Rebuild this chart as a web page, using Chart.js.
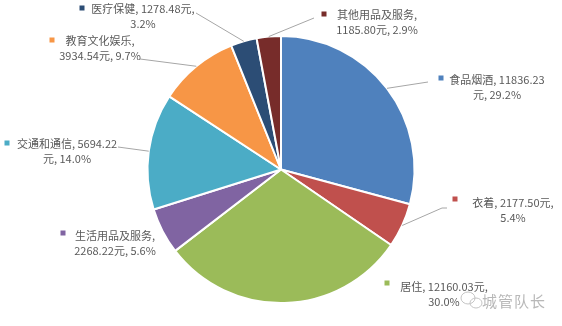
<!DOCTYPE html>
<html>
<head>
<meta charset="utf-8">
<script src="https://cdn.jsdelivr.net/npm/chart.js@4"></script>
<style>
  html, body { margin: 0; padding: 0; background: #fff; }
  #wrap { position: relative; width: 562px; height: 326px; }
  #mark { position: absolute; left: 482px; top: 290px; font: 15px "Noto Sans CJK SC", sans-serif; color: #b8b8b8; letter-spacing: 1px; }
</style>
</head>
<body>
<div id="wrap">
  <canvas id="pie" width="562" height="326"></canvas>
  <div id="mark">城管队长</div>
</div>
<script>
// data
const categories = ['食品烟酒', '衣着', '居住', '生活用品及服务', '交通和通信', '教育文化娱乐', '医疗保健', '其他用品及服务'];
const amounts = [11836.23, 2177.50, 12160.03, 2268.22, 5694.22, 3934.54, 1278.48, 1185.80];
const colors = ['#4F81BD', '#C0504D', '#9BBB59', '#8064A2', '#4BACC6', '#F79646', '#2C4D75', '#772C2A'];

// where each data label sits (text centre, first line y, marker, leader start)
const labelLayout = [
  { x: 497, y: 80,  split: 'num',  mx: 441, my: 78,  leader: [[428, 82]] },
  { x: 513, y: 203, split: 'yuan', mx: 455, my: 199, leader: [[447, 208], [442, 208]] },
  { x: 444, y: 287, split: 'yuan', mx: 387, my: 283, leader: null },
  { x: 115, y: 236, split: 'cat',  mx: 63,  my: 233, leader: null },
  { x: 67,  y: 144, split: 'num',  mx: 7,   my: 143, leader: [[118, 147]] },
  { x: 100, y: 41,  split: 'cat',  mx: 52,  my: 40,  leader: [[140, 59]] },
  { x: 143, y: 9,   split: 'yuan', mx: 82,  my: 8,   leader: [[196, 13]] },
  { x: 377, y: 15,  split: 'cat',  mx: 324, my: 14,  leader: [[314, 18]] }
];

const total = amounts.reduce((a, b) => a + b, 0);

function labelLines(i) {
  const cat = categories[i];
  const val = amounts[i].toFixed(2);
  const pct = (amounts[i] / total * 100).toFixed(1) + '%';
  const mode = labelLayout[i].split;
  if (mode === 'cat') return [cat + ',', val + '元, ' + pct];
  if (mode === 'num') return [cat + ', ' + val, '元, ' + pct];
  return [cat + ', ' + val + '元,', pct];
}

const sliceLabels = {
  id: 'sliceLabels',
  afterDraw(chart) {
    const ctx = chart.ctx;
    const arcs = chart.getDatasetMeta(0).data;
    ctx.save();
    arcs.forEach((arc, i) => {
      const L = labelLayout[i];
      const mid = (arc.startAngle + arc.endAngle) / 2;
      const px = arc.x + Math.cos(mid) * arc.outerRadius;
      const py = arc.y + Math.sin(mid) * arc.outerRadius;
      if (L.leader) {
        ctx.strokeStyle = '#a6a6a6';
        ctx.lineWidth = 1;
        ctx.beginPath();
        ctx.moveTo(L.leader[0][0], L.leader[0][1]);
        for (let k = 1; k < L.leader.length; k++) ctx.lineTo(L.leader[k][0], L.leader[k][1]);
        ctx.lineTo(px, py);
        ctx.stroke();
      }
      ctx.fillStyle = colors[i];
      ctx.fillRect(L.mx - 2.5, L.my - 2.5, 5, 5);
      ctx.fillStyle = '#595959';
      ctx.font = '11px "Noto Sans CJK SC", sans-serif';
      ctx.textAlign = 'center';
      ctx.textBaseline = 'middle';
      labelLines(i).forEach((t, k) => ctx.fillText(t, L.x, L.y + k * 15));
    });
    // little chat icon of the watermark
    ctx.strokeStyle = '#c4c4c4';
    ctx.lineWidth = 1;
    ctx.beginPath();
    ctx.ellipse(468, 298, 7, 6, 0, 0, Math.PI * 2);
    ctx.stroke();
    ctx.beginPath();
    ctx.ellipse(476, 303, 6, 5, 0, 0, Math.PI * 2);
    ctx.stroke();
    ctx.restore();
  }
};

new Chart(document.getElementById('pie').getContext('2d'), {
  type: 'pie',
  data: {
    labels: categories,
    datasets: [{
      data: amounts,
      backgroundColor: colors,
      borderColor: '#ffffff',
      borderWidth: 2
    }]
  },
  options: {
    responsive: false,
    animation: false,
    layout: { padding: { top: 35, bottom: 22, left: 0, right: 0 } },
    plugins: { legend: { display: false }, tooltip: { enabled: false } }
  },
  plugins: [sliceLabels]
});
</script>
</body>
</html>
